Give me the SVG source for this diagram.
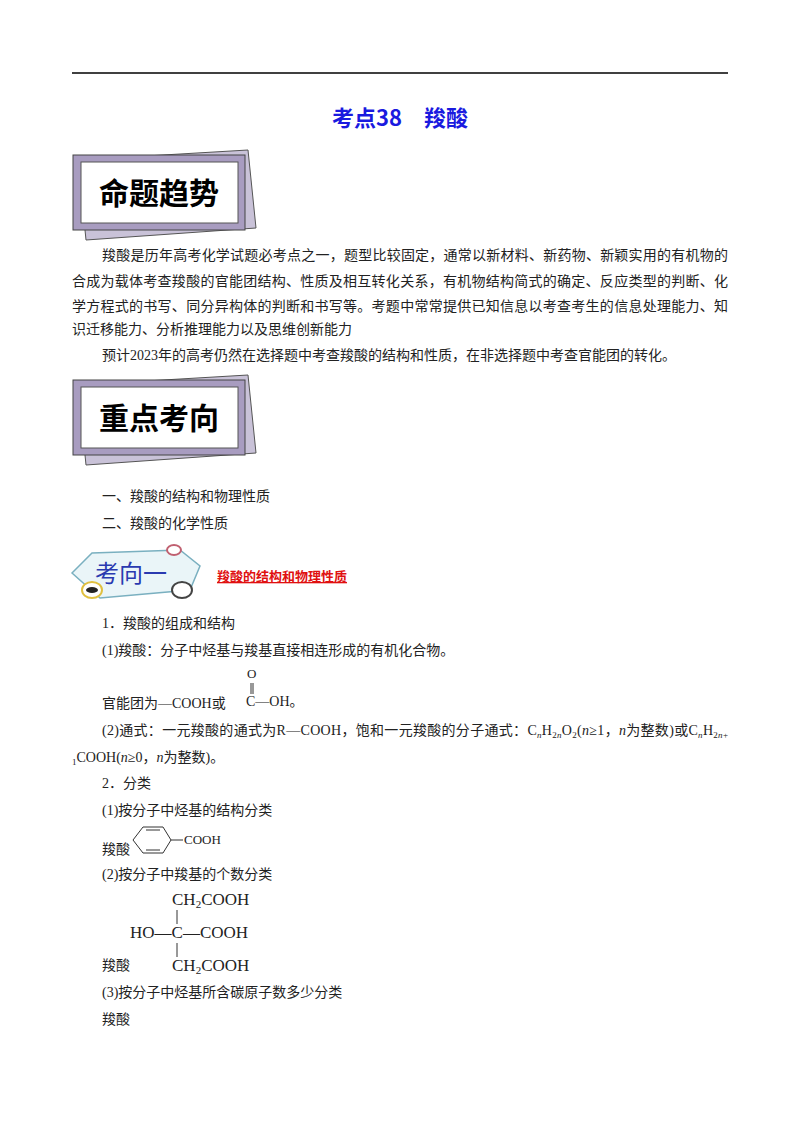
<svg xmlns="http://www.w3.org/2000/svg" width="800" height="1132" viewBox="0 0 800 1132">
<style>
text{font-family:"Liberation Serif","Noto Sans CJK SC",serif;font-size:14px;fill:#222}
.b{font-family:"Noto Sans CJK SC",sans-serif;font-weight:bold}
.chem{font-family:"Liberation Serif",serif;font-size:17px}
.ln{stroke:#333;stroke-width:1;fill:none}
</style>
<rect width="800" height="1132" fill="#fff"/>
<line x1="72" y1="73" x2="728" y2="73" stroke="#000" stroke-width="1.5"/>
<text x="400" y="126" text-anchor="middle" class="b" style="font-size:22px;fill:#1a1adf">考点38　羧酸</text>

<g id="banner1">
<polygon points="78,160 248,150 256,228 86,240" fill="#c9c2d8" stroke="#555" stroke-width="1"/>
<rect x="73" y="155" width="172" height="75" fill="#a89cc0" stroke="#444"/>
<rect x="81" y="162" width="157" height="61" fill="#fff" stroke="#555"/>
<text x="159" y="204" text-anchor="middle" class="b" style="font-size:30px;fill:#000">命题趋势</text>
</g>

<text x="102" y="260" textLength="626">羧酸是历年高考化学试题必考点之一，题型比较固定，通常以新材料、新药物、新颖实用的有机物的</text>
<text x="72" y="286" textLength="656">合成为载体考查羧酸的官能团结构、性质及相互转化关系，有机物结构简式的确定、反应类型的判断、化</text>
<text x="72" y="311" textLength="656">学方程式的书写、同分异构体的判断和书写等。考题中常常提供已知信息以考查考生的信息处理能力、知</text>
<text x="72" y="334">识迁移能力、分析推理能力以及思维创新能力</text>
<text x="102" y="360">预计2023年的高考仍然在选择题中考查羧酸的结构和性质，在非选择题中考查官能团的转化。</text>

<g id="banner2">
<polygon points="78,385 248,375 256,453 86,465" fill="#c9c2d8" stroke="#555" stroke-width="1"/>
<rect x="73" y="380" width="172" height="75" fill="#a89cc0" stroke="#444"/>
<rect x="81" y="387" width="157" height="61" fill="#fff" stroke="#555"/>
<text x="159" y="429" text-anchor="middle" class="b" style="font-size:30px;fill:#000">重点考向</text>
</g>

<text x="102" y="501">一、羧酸的结构和物理性质</text>
<text x="102" y="528">二、羧酸的化学性质</text>

<g id="badge">
<polygon points="72,573 92,553 180,550 200,566 190,590 100,598" fill="#eaf5f8" stroke="#7ab0c0" stroke-width="1.5"/>
<ellipse cx="174" cy="550" rx="7" ry="5" fill="#fff" stroke="#c06070" stroke-width="2"/>
<ellipse cx="92" cy="590" rx="10" ry="8" fill="#fff" stroke="#e0c040" stroke-width="2"/>
<ellipse cx="92" cy="590" rx="6" ry="3" fill="#222"/>
<ellipse cx="182" cy="590" rx="10" ry="8" fill="#fff" stroke="#444" stroke-width="2"/>
<text x="95" y="582" style="font-family:'Noto Sans CJK SC',sans-serif;font-size:24px;fill:#2a3ab0">考向一</text>
</g>
<text x="217" y="581" class="b" style="font-size:13px;fill:#e01010;text-decoration:underline">羧酸的结构和物理性质</text>

<text x="102" y="628">1．羧酸的组成和结构</text>
<text x="102" y="655">(1)羧酸：分子中烃基与羧基直接相连形成的有机化合物。</text>
<text x="247" y="678" style="font-size:13px">O</text>
<line x1="251" y1="683" x2="251" y2="694" class="ln"/>
<line x1="253" y1="683" x2="253" y2="694" class="ln"/>
<text x="102" y="708">官能团为—COOH或</text>
<text x="246" y="706">C—OH。</text>
<text x="102" y="735" textLength="626">(2)通式：一元羧酸的通式为R—COOH，饱和一元羧酸的分子通式：C<tspan font-size="9" dy="3"><tspan font-style="italic">n</tspan></tspan><tspan dy="-3">H</tspan><tspan font-size="9" dy="3">2<tspan font-style="italic">n</tspan></tspan><tspan dy="-3">O</tspan><tspan font-size="9" dy="3">2</tspan><tspan dy="-3">(</tspan><tspan font-style="italic">n</tspan>≥1，<tspan font-style="italic">n</tspan>为整数)或C<tspan font-size="9" dy="3"><tspan font-style="italic">n</tspan></tspan><tspan dy="-3">H</tspan><tspan font-size="9" dy="3">2<tspan font-style="italic">n</tspan>+</tspan></text>
<text x="72" y="762"><tspan font-size="9" dy="3">1</tspan><tspan dy="-3">COOH(</tspan><tspan font-style="italic">n</tspan>≥0，<tspan font-style="italic">n</tspan>为整数)。</text>
<text x="102" y="788">2．分类</text>
<text x="102" y="815">(1)按分子中烃基的结构分类</text>
<text x="102" y="854">羧酸</text>
<g id="benzene" class="ln">
<polygon points="133,840 143,827 163,827 171,840 163,853 143,853"/>
<line x1="146" y1="830" x2="160" y2="830"/>
<line x1="146" y1="850" x2="160" y2="850"/>
<line x1="171" y1="840" x2="183" y2="840"/>
</g>
<text x="184" y="844" style="font-size:13px">COOH</text>
<text x="102" y="879">(2)按分子中羧基的个数分类</text>
<text x="172" y="905" class="chem">CH<tspan font-size="11" dy="3">2</tspan><tspan dy="-3">COOH</tspan></text>
<line x1="177" y1="910" x2="177" y2="924" class="ln"/>
<text x="130" y="938" class="chem">HO—C—COOH</text>
<line x1="177" y1="943" x2="177" y2="957" class="ln"/>
<text x="102" y="970">羧酸</text>
<text x="172" y="971" class="chem">CH<tspan font-size="11" dy="3">2</tspan><tspan dy="-3">COOH</tspan></text>
<text x="102" y="997">(3)按分子中烃基所含碳原子数多少分类</text>
<text x="102" y="1024">羧酸</text>
</svg>
